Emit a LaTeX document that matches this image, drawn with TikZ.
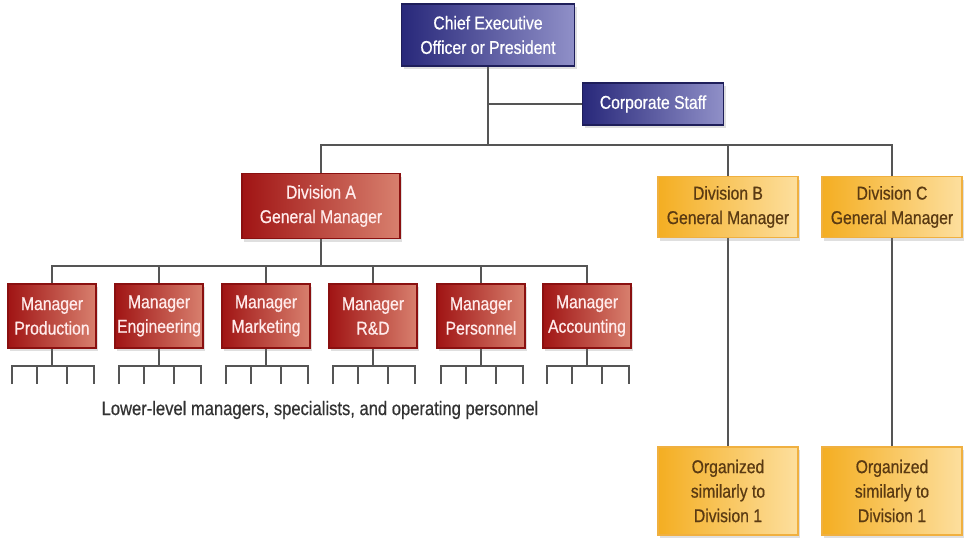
\documentclass[tikz,border=0pt]{standalone}
\usepackage{fontspec}
\setmainfont{Liberation Sans}[FakeStretch=0.85, FakeBold=0.6]
\usetikzlibrary{shadows}

\definecolor{bluedark}{HTML}{28287A}
\definecolor{bluelight}{HTML}{9090C8}
\definecolor{blueedge}{HTML}{1E1E5A}
\definecolor{reddark}{HTML}{A01414}
\definecolor{redlight}{HTML}{D8806E}
\definecolor{rededge}{HTML}{8A1010}
\definecolor{yellowdark}{HTML}{F4AE22}
\definecolor{yellowlight}{HTML}{FDDF9E}
\definecolor{yellowedge}{HTML}{F0B040}
\definecolor{browntext}{HTML}{5A3A12}
\definecolor{linegray}{HTML}{555555}

\tikzset{
  chartbox/.style={shade, align=center, line width=1.5pt, inner sep=1pt,
    font=\fontsize{18.5}{24.5}\selectfont,
    drop shadow={opacity=0.25, shadow xshift=2pt, shadow yshift=-3pt}},
  bluebox/.style={chartbox, left color=bluedark, right color=bluelight,
    draw=blueedge, text=white},
  redbox/.style={chartbox, left color=reddark, right color=redlight,
    draw=rededge, text=red!8},
  yellowbox/.style={chartbox, left color=yellowdark, right color=yellowlight,
    draw=yellowedge, text=browntext},
  wire/.style={draw=linegray, line width=1.2pt}
}

\begin{document}
\begin{tikzpicture}[x=1pt, y=-1pt]
\useasboundingbox (0,0) rectangle (965,541);

% junction points of the tree
\coordinate (top) at (488,145);
\coordinate (abar) at (321,266);

% connectors first, boxes drawn over them
\draw[wire] (488,35) -- (top);
\draw[wire] (488,104) -- (653,104);
\draw[wire] (321,206) |- (top) -| (892,207);
\draw[wire] (728,145) -- (728,491);
\draw[wire] (892,207) -- (892,491);
\draw[wire] (321,206) -- (abar);
\draw[wire] (52,316) |- (abar) -| (587,316);

\node[bluebox, minimum width=173, minimum height=62] (ceo) at (488,35) {Chief Executive\\Officer or President};
\node[bluebox, minimum width=141, minimum height=42] (staff) at (653,104) {Corporate Staff};

\node[redbox, minimum width=158, minimum height=65] (diva) at (321,206) {Division A\\General Manager};
\node[yellowbox, minimum width=140, minimum height=61] (divb) at (728,207) {Division B\\General Manager};
\node[yellowbox, minimum width=140, minimum height=61] (divc) at (892,207) {Division C\\General Manager};

\node[yellowbox, minimum width=140, minimum height=88] (orgb) at (728,491) {Organized\\similarly to\\Division 1};
\node[yellowbox, minimum width=140, minimum height=88] (orgc) at (892,491) {Organized\\similarly to\\Division 1};

% managers under division A, each with its staff ticks
\foreach \x/\name/\job in {52/prod/Production, 159/eng/Engineering, 266/mkt/Marketing,
                          373/rd/R\&D, 481/pers/Personnel, 587/acc/Accounting} {
  \draw[wire] (\x,266) -- (\x,316);
  \draw[wire] (\x,316) -- (\x,366);
  \draw[wire] (\x-40,384) -- (\x-40,366) -- (\x+42,366) -- (\x+42,384);
  \draw[wire] (\x-15,366) -- (\x-15,384);
  \draw[wire] (\x+15,366) -- (\x+15,384);
  \node[redbox, minimum width=88, minimum height=64] (\name) at (\x,316) {Manager\\\job};
}

\node[text=black!80, font=\fontsize{19.5}{22}\selectfont] (lower) at (320,410) {Lower-level managers, specialists, and operating personnel};

\end{tikzpicture}
\end{document}
